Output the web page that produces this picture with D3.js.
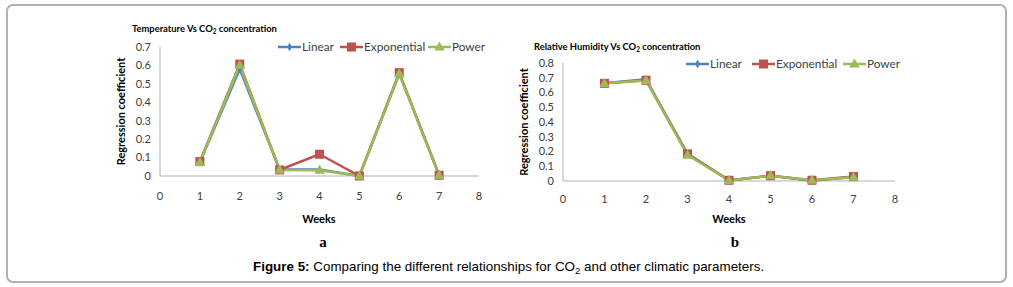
<!DOCTYPE html>
<html><head><meta charset="utf-8">
<script src="https://cdn.jsdelivr.net/npm/d3@7"></script>
<style>body{margin:0;background:#fff}svg{display:block}</style>
</head><body>
<svg id="c" width="1013" height="287"></svg>
<script>
const weeks = [1,2,3,4,5,6,7];
const seriesNames = ["Linear","Exponential","Power"];
// Chart a: Temperature Vs CO2 concentration
const tempLinear = [0.075,0.58,0.035,0.035,0.0,0.555,0.005];
const tempExponential = [0.078,0.607,0.033,0.118,0.0,0.561,0.004];
const tempPower = [0.074,0.6,0.033,0.031,0.0,0.555,0.004];
// Chart b: Relative Humidity Vs CO2 concentration
const rhLinear = [0.662,0.69,0.183,0.004,0.036,0.001,0.027];
const rhExponential = [0.662,0.683,0.184,0.005,0.036,0.005,0.03];
const rhPower = [0.662,0.682,0.176,0.004,0.036,0.005,0.025];
const xTicks = [0,1,2,3,4,5,6,7,8];
const yTicksA = [0,0.1,0.2,0.3,0.4,0.5,0.6,0.7];
const yTicksB = [0,0.1,0.2,0.3,0.4,0.5,0.6,0.7,0.8];

const colors = {Linear:"#4F81BD", Exponential:"#C0504D", Power:"#9BBB59"};
const svg = d3.select("#c");
const FONT = "Lato, 'Open Sans', sans-serif";

// outer frame
svg.append("rect").attr("x",7).attr("y",5).attr("width",999).attr("height",277)
  .attr("rx",6).attr("fill","none").attr("stroke","#b0b0b0").attr("stroke-width",2);

function marker(g, name, x, y){
  const c = colors[name];
  if(name==="Linear"){
    g.append("path").attr("d",d3.symbol(d3.symbolDiamond,22)()).attr("transform",`translate(${x},${y})`).attr("fill",c);
  } else if(name==="Exponential"){
    g.append("rect").attr("x",x-4.5).attr("y",y-4.5).attr("width",9).attr("height",9).attr("fill",c);
  } else {
    g.append("path").attr("d",d3.symbol(d3.symbolTriangle,48)()).attr("transform",`translate(${x},${y+0.5})`).attr("fill",c);
  }
}

function titleText(g, x, y, main){
  const t = g.append("text").attr("x",x).attr("y",y).attr("font-family",FONT)
    .attr("font-weight","bold").attr("font-size",9.4).attr("fill","#000");
  t.append("tspan").text(main+" Vs CO");
  t.append("tspan").attr("dy",2).attr("font-size",6.5).text("2");
  t.append("tspan").attr("dy",-2).text(" concentration");
}

function chart(cfg){
  const g = svg.append("g");
  const x = d3.scaleLinear().domain([0,8]).range([cfg.x0,cfg.x1]);
  const y = d3.scaleLinear().domain([0,cfg.ymax]).range([cfg.y0,cfg.y1]);
  // axes lines
  g.append("line").attr("x1",cfg.x0).attr("x2",cfg.x0).attr("y1",cfg.y0).attr("y2",cfg.y1).attr("stroke","#b3b3b3");
  g.append("line").attr("x1",cfg.x0).attr("x2",cfg.x1).attr("y1",cfg.y0).attr("y2",cfg.y0).attr("stroke","#b3b3b3");
  // y ticks
  g.selectAll(".yt").data(cfg.yTicks).enter().append("text")
    .attr("x",cfg.x0-9).attr("y",d=>y(d)).attr("dy","0.35em").attr("text-anchor","end")
    .attr("font-family",FONT).attr("font-size",11).attr("fill","#404040")
    .text(d=>d3.format("")(+d.toFixed(1)));
  // x ticks
  g.selectAll(".xt").data(xTicks).enter().append("text")
    .attr("x",d=>x(d)).attr("y",cfg.xLabelY).attr("dy","0.35em").attr("text-anchor","middle")
    .attr("font-family",FONT).attr("font-size",11).attr("fill","#404040").text(d=>d);
  // axis titles
  g.append("text").attr("transform",`translate(${cfg.yTitleX},${(cfg.y0+cfg.y1)/2}) rotate(-90)`)
    .attr("text-anchor","middle").attr("dy","0.35em").attr("font-family",FONT).attr("font-weight","bold")
    .attr("font-size",11).attr("fill","#000").text("Regression coefficient");
  g.append("text").attr("x",cfg.weeksX).attr("y",219).attr("dy","0.35em").attr("text-anchor","middle")
    .attr("font-family",FONT).attr("font-weight","bold").attr("font-size",11).attr("fill","#000").text("Weeks");
  titleText(g, cfg.titleX, cfg.titleY, cfg.title);
  // series
  const line = d3.line().x((d,i)=>x(weeks[i])).y(d=>y(d));
  cfg.series.forEach((vals,si)=>{
    const name = seriesNames[si];
    g.append("path").attr("d",line(vals)).attr("fill","none").attr("stroke",colors[name])
      .attr("stroke-width",2.5).attr("stroke-linejoin","round");
  });
  cfg.series.forEach((vals,si)=>{
    const name = seriesNames[si];
    vals.forEach((v,i)=>marker(g,name,x(weeks[i]),y(v)));
  });
  // legend
  cfg.legend.forEach((lx,si)=>{
    const name = seriesNames[si];
    g.append("line").attr("x1",lx).attr("x2",lx+23).attr("y1",cfg.legendY).attr("y2",cfg.legendY)
      .attr("stroke",colors[name]).attr("stroke-width",2.5);
    marker(g,name,lx+11.5,cfg.legendY);
    g.append("text").attr("x",lx+24).attr("y",cfg.legendY).attr("dy","0.35em")
      .attr("font-family",FONT).attr("font-size",11.8).attr("fill","#404040").text(name);
  });
  // panel letter
  g.append("text").attr("x",cfg.letterX).attr("y",247).attr("text-anchor","middle")
    .attr("font-family","'Liberation Serif', 'DejaVu Serif', serif").attr("font-weight","bold")
    .attr("font-size",15).attr("fill","#000").text(cfg.letter);
}

chart({x0:160,x1:479,y0:176,y1:47,ymax:0.7,yTicks:yTicksA,xLabelY:196,yTitleX:121,weeksX:319,
  titleX:132,titleY:32,title:"Temperature",series:[tempLinear,tempExponential,tempPower],
  legend:[278,340,428],legendY:47,letterX:323,letter:"a"});
chart({x0:563,x1:895,y0:181,y1:63,ymax:0.8,yTicks:yTicksB,xLabelY:199,yTitleX:524,weeksX:729,
  titleX:534,titleY:50,title:"Relative Humidity",series:[rhLinear,rhExponential,rhPower],
  legend:[686,752,843],legendY:64,letterX:735,letter:"b"});

// caption
const cap = svg.append("text").attr("x",253).attr("y",271)
  .attr("font-family","'Liberation Sans', Arial, sans-serif").attr("font-size",13.4).attr("fill","#000");
cap.append("tspan").attr("font-weight","bold").text("Figure 5:");
cap.append("tspan").text(" Comparing the different relationships for CO");
cap.append("tspan").attr("dy",3).attr("font-size",9.5).text("2");
cap.append("tspan").attr("dy",-3).text(" and other climatic parameters.");
</script>
</body></html>
